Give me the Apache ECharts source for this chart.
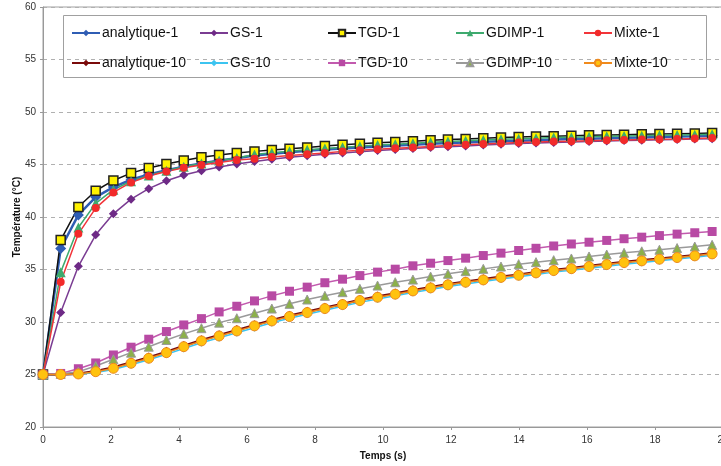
<!DOCTYPE html>
<html>
<head>
<meta charset="utf-8">
<script src="https://cdn.jsdelivr.net/npm/echarts@6/dist/echarts.min.js"></script>
<style>
html,body{margin:0;padding:0;background:#fff;}
#chart{width:721px;height:466px;}
</style>
</head>
<body>
<div id="chart"></div>
<script>
// time (s)
var times = [0, 0.52, 1.04, 1.55, 2.07, 2.59, 3.11, 3.63, 4.14, 4.66, 5.18, 5.70, 6.22, 6.73, 7.25, 7.77, 8.29, 8.81, 9.32, 9.84, 10.36, 10.88, 11.40, 11.91, 12.43, 12.95, 13.47, 13.99, 14.50, 15.02, 15.54, 16.06, 16.58, 17.09, 17.61, 18.13, 18.65, 19.17, 19.68];

var analytique1 = [25, 37.0, 40.2, 41.9, 42.85, 43.55, 44.05, 44.45, 44.8, 45.1, 45.38, 45.6, 45.85, 46.02, 46.17, 46.3, 46.42, 46.53, 46.63, 46.72, 46.81, 46.89, 46.97, 47.04, 47.1, 47.16, 47.22, 47.27, 47.32, 47.37, 47.42, 47.46, 47.5, 47.54, 47.58, 47.62, 47.66, 47.7, 47.74];
var gs1 = [25, 30.9, 35.3, 38.3, 40.3, 41.7, 42.7, 43.45, 44.0, 44.4, 44.76, 45.05, 45.29, 45.5, 45.68, 45.84, 45.98, 46.1, 46.22, 46.33, 46.43, 46.52, 46.61, 46.69, 46.77, 46.85, 46.92, 46.99, 47.05, 47.1, 47.15, 47.2, 47.24, 47.28, 47.32, 47.36, 47.39, 47.42, 47.45];
var tgd1 = [25, 37.8, 40.95, 42.5, 43.48, 44.18, 44.66, 45.05, 45.39, 45.68, 45.9, 46.09, 46.25, 46.38, 46.51, 46.63, 46.76, 46.88, 46.97, 47.06, 47.14, 47.22, 47.3, 47.37, 47.44, 47.5, 47.56, 47.62, 47.66, 47.7, 47.74, 47.78, 47.81, 47.84, 47.87, 47.9, 47.93, 47.96, 47.99];
var gdimp1 = [25, 34.75, 39.0, 41.3, 42.6, 43.4, 43.95, 44.4, 44.78, 45.1, 45.38, 45.62, 45.95, 46.12, 46.27, 46.4, 46.52, 46.64, 46.75, 46.85, 46.94, 47.03, 47.11, 47.19, 47.26, 47.33, 47.4, 47.46, 47.51, 47.56, 47.6, 47.64, 47.68, 47.72, 47.75, 47.78, 47.81, 47.84, 47.87];
var mixte1 = [25, 33.8, 38.4, 40.85, 42.34, 43.29, 43.9, 44.34, 44.68, 44.95, 45.2, 45.42, 45.55, 45.72, 45.85, 45.98, 46.1, 46.25, 46.35, 46.45, 46.54, 46.63, 46.72, 46.8, 46.88, 46.96, 47.03, 47.1, 47.14, 47.18, 47.22, 47.26, 47.3, 47.33, 47.37, 47.41, 47.44, 47.48, 47.52];

var analytique10 = [25, 25.01, 25.08, 25.32, 25.66, 26.14, 26.63, 27.16, 27.72, 28.27, 28.75, 29.23, 29.7, 30.17, 30.59, 30.97, 31.35, 31.72, 32.1, 32.42, 32.71, 33.02, 33.31, 33.59, 33.84, 34.07, 34.3, 34.51, 34.73, 34.95, 35.13, 35.33, 35.52, 35.71, 35.87, 36.03, 36.19, 36.35, 36.54];
var gs10 = [25, 24.99, 25.02, 25.2, 25.48, 25.93, 26.4, 26.92, 27.48, 28.03, 28.5, 28.98, 29.46, 29.93, 30.35, 30.73, 31.11, 31.49, 31.87, 32.19, 32.49, 32.8, 33.09, 33.38, 33.63, 33.86, 34.1, 34.3, 34.53, 34.75, 34.93, 35.13, 35.32, 35.51, 35.67, 35.84, 36.0, 36.16, 36.35];
var tgd10 = [25, 25.1, 25.55, 26.1, 26.86, 27.6, 28.36, 29.09, 29.72, 30.32, 30.96, 31.5, 32.01, 32.49, 32.93, 33.32, 33.74, 34.08, 34.42, 34.75, 35.03, 35.35, 35.6, 35.85, 36.08, 36.33, 36.56, 36.81, 37.02, 37.24, 37.43, 37.6, 37.77, 37.93, 38.08, 38.23, 38.37, 38.5, 38.62];
var gdimp10 = [25, 25.05, 25.27, 25.81, 26.45, 27.08, 27.65, 28.29, 28.87, 29.41, 29.94, 30.36, 30.84, 31.28, 31.73, 32.14, 32.49, 32.84, 33.16, 33.47, 33.79, 34.04, 34.33, 34.59, 34.84, 35.06, 35.28, 35.51, 35.7, 35.89, 36.05, 36.24, 36.43, 36.59, 36.73, 36.88, 37.04, 37.19, 37.35];
var mixte10 = [25, 25.0, 25.05, 25.27, 25.59, 26.07, 26.55, 27.08, 27.65, 28.2, 28.67, 29.15, 29.63, 30.1, 30.52, 30.9, 31.28, 31.66, 32.04, 32.36, 32.65, 32.96, 33.25, 33.54, 33.79, 34.01, 34.25, 34.45, 34.68, 34.9, 35.08, 35.28, 35.47, 35.66, 35.82, 35.98, 36.14, 36.3, 36.49];

var xTicks = [0, 2, 4, 6, 8, 10, 12, 14, 16, 18, 20];
var yTicks = [20, 25, 30, 35, 40, 45, 50, 55, 60];

function pairs(vals){ return times.map(function(t,i){ return [t, vals[i]]; }); }

function mk(name, vals, lineColor, lw, symbol, size, fill, border, bw){
  return {
    name: name, type: 'line', data: pairs(vals),
    symbol: symbol, symbolSize: size,
    lineStyle: {color: lineColor, width: lw},
    itemStyle: {color: fill, borderColor: border, borderWidth: bw},
    emphasis: {disabled: true},
    animation: false
  };
}

var series = [
  mk('analytique-1', analytique1, '#2F5DB4', 2.5, 'diamond', 11, '#2F5DB4', '#2F5DB4', 0),
  mk('GS-1', gs1, '#7A3C92', 1.5, 'diamond', 9, '#6E2A86', '#6E2A86', 0),
  mk('TGD-1', tgd1, '#111111', 1.5, 'rect', 9, '#FFF200', '#222222', 1.5),
  mk('GDIMP-1', gdimp1, '#3DAA6E', 1.5, 'triangle', 10, '#3DAA6E', '#3DAA6E', 0),
  mk('Mixte-1', mixte1, '#F2353A', 1.5, 'circle', 8, '#F22A2A', '#F22A2A', 0),
  mk('analytique-10', analytique10, '#7A0A0A', 2.5, 'diamond', 10, '#7A0A0A', '#7A0A0A', 0),
  mk('GS-10', gs10, '#3CC4F0', 1.5, 'diamond', 8, '#3CC4F0', '#3CC4F0', 0),
  mk('TGD-10', tgd10, '#C25AAE', 1.5, 'rect', 9, '#B84AA4', '#B84AA4', 0),
  mk('GDIMP-10', gdimp10, '#9A9A9A', 1.5, 'triangle', 9, '#8CB04A', '#9A9A9A', 1),
  mk('Mixte-10', mixte10, '#F08A1C', 1.5, 'circle', 10, '#FFC20E', '#F08A1C', 1)
];

var cols = [
  ['analytique-1','analytique-10'],
  ['GS-1','GS-10'],
  ['TGD-1','TGD-10'],
  ['GDIMP-1','GDIMP-10'],
  ['Mixte-1','Mixte-10']
];
var colLeft = [66, 194, 322, 450, 578];
var legends = cols.map(function(c, i){
  return {
    data: c, orient: 'vertical', left: colLeft[i], top: 20,
    itemWidth: 28, itemHeight: 8, itemGap: 14,
    selectedMode: false,
    textStyle: {fontFamily: 'Liberation Sans', fontSize: 14, color: '#111', lineHeight: 16, padding: [0,0,0,-3]}
  };
});

var chart = echarts.init(document.getElementById('chart'), null, {renderer: 'canvas'});
chart.setOption({
  animation: false,
  backgroundColor: '#fff',
  grid: {left: 43, top: 7, width: 680, height: 420, show: true, borderColor: '#A0A0A0', borderWidth: 1, backgroundColor: 'transparent', outerBoundsMode: 'none', containLabel: false},
  xAxis: {
    type: 'value', min: xTicks[0], max: xTicks[xTicks.length-1], interval: 2,
    name: 'Temps (s)', nameLocation: 'middle', nameGap: 24, nameMoveOverlap: false,
    nameTextStyle: {fontFamily: 'Liberation Sans', fontSize: 10, fontWeight: 'bold', color: '#111'},
    axisLine: {lineStyle: {color: '#999', width: 1}},
    axisTick: {show: true, inside: false, length: 3, lineStyle: {color: '#999'}},
    axisLabel: {fontFamily: 'Liberation Sans', fontSize: 10, color: '#333', margin: 8, hideOverlap: false},
    splitLine: {show: false}
  },
  yAxis: {
    type: 'value', min: yTicks[0], max: yTicks[yTicks.length-1], interval: 5,
    name: 'Température (°C)', nameLocation: 'middle', nameGap: 21, nameRotate: 90, nameMoveOverlap: false,
    nameTextStyle: {fontFamily: 'Liberation Sans', fontSize: 10, fontWeight: 'bold', color: '#111'},
    axisLine: {show: true, lineStyle: {color: '#999', width: 1}},
    axisTick: {show: true, inside: false, length: 3, lineStyle: {color: '#999'}},
    axisLabel: {fontFamily: 'Liberation Sans', fontSize: 10, color: '#333', margin: 7},
    splitLine: {show: true, lineStyle: {color: '#B0B0B0', type: [4, 4], width: 1}}
  },
  legend: legends,
  graphic: [{
    type: 'rect', left: 63, top: 15, z: -1,
    shape: {width: 643, height: 62},
    style: {fill: '#fff', stroke: '#A0A0A0', lineWidth: 1},
    silent: true
  }],
  series: series
});
</script>
</body>
</html>
